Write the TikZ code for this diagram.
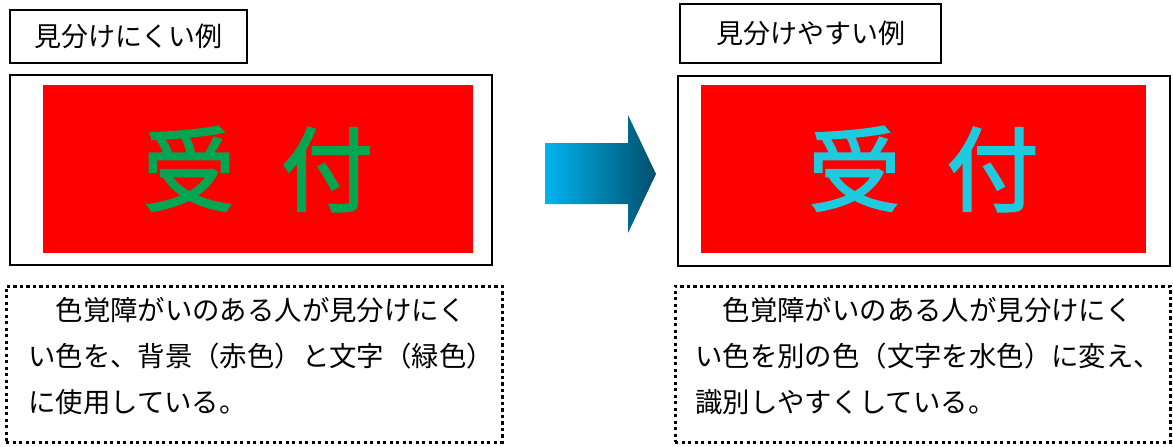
\documentclass[tikz,border=0pt]{standalone}
\usepackage{fontspec}
\setmainfont{Noto Sans CJK JP}
\newfontfamily\signfont[FakeBold=2.2]{Noto Sans CJK JP}
\usetikzlibrary{positioning}
\definecolor{signred}{RGB}{255,0,0}
\definecolor{hardgreen}{RGB}{0,166,81}
\definecolor{easycyan}{RGB}{30,202,222}
\definecolor{arrowleft}{RGB}{0,180,240}
\definecolor{arrowright}{RGB}{0,78,108}

\begin{document}
\begin{tikzpicture}[x=1pt, y=1pt,
        labelbox/.style={draw, line width=1.6pt, inner sep=0pt, font=\fontsize{27}{27}\selectfont},
        framebox/.style={draw, line width=1.6pt, inner sep=0pt},
        signbox/.style={fill=signred, inner sep=0pt, font=\signfont\fontsize{92}{92}\selectfont},
        notebox/.style={draw, line width=3pt, dash pattern=on 3.4pt off 3.1pt, inner sep=0pt},
        notetext/.style={align=left, inner sep=0pt, anchor=west, font=\fontsize{27.4}{46}\selectfont}]
        \useasboundingbox (0,0) rectangle (1173,-447);

        % left: hard to tell apart
        \node[labelbox, minimum width=237, minimum height=53] (labelL) at (128.5,-36.5) {\raisebox{-3pt}{見分けにくい例}};
        \node[framebox, minimum width=482, minimum height=190] (frameL) at (251,-170) {};
        \node[signbox, minimum width=430, minimum height=168, text=hardgreen] (signL) at (258,-169) {受\hspace{46pt}付};
        \node[notebox, minimum width=496, minimum height=156] (noteL) at (254,-364) {};
        \node[notetext] (textL) at (28,-356) {　色覚障がいのある人が見分けにく\\い色を、背景（赤色）と文字（緑色）\\に使用している。};

        % arrow
        \shade[left color=arrowleft, right color=arrowright] (545,-143) -- (628,-143) -- (628,-115) -- (656,-174) -- (628,-233) -- (628,-204) -- (545,-204) -- cycle;

        % right: easy to tell apart
        \node[labelbox, minimum width=261, minimum height=59] (labelR) at (810.5,-33.5) {見分けやすい例};
        \node[framebox, minimum width=492, minimum height=190] (frameR) at (924,-171) {};
        \node[signbox, minimum width=445, minimum height=168, text=easycyan] (signR) at (923.5,-169) {受\hspace{46pt}付};
        \node[notebox, minimum width=495, minimum height=156] (noteR) at (922.5,-364) {};
        \node[notetext] (textR) at (695,-356) {　色覚障がいのある人が見分けにく\\い色を別の色（文字を水色）に変え、\\識別しやすくしている。};

\end{tikzpicture}
\end{document}
